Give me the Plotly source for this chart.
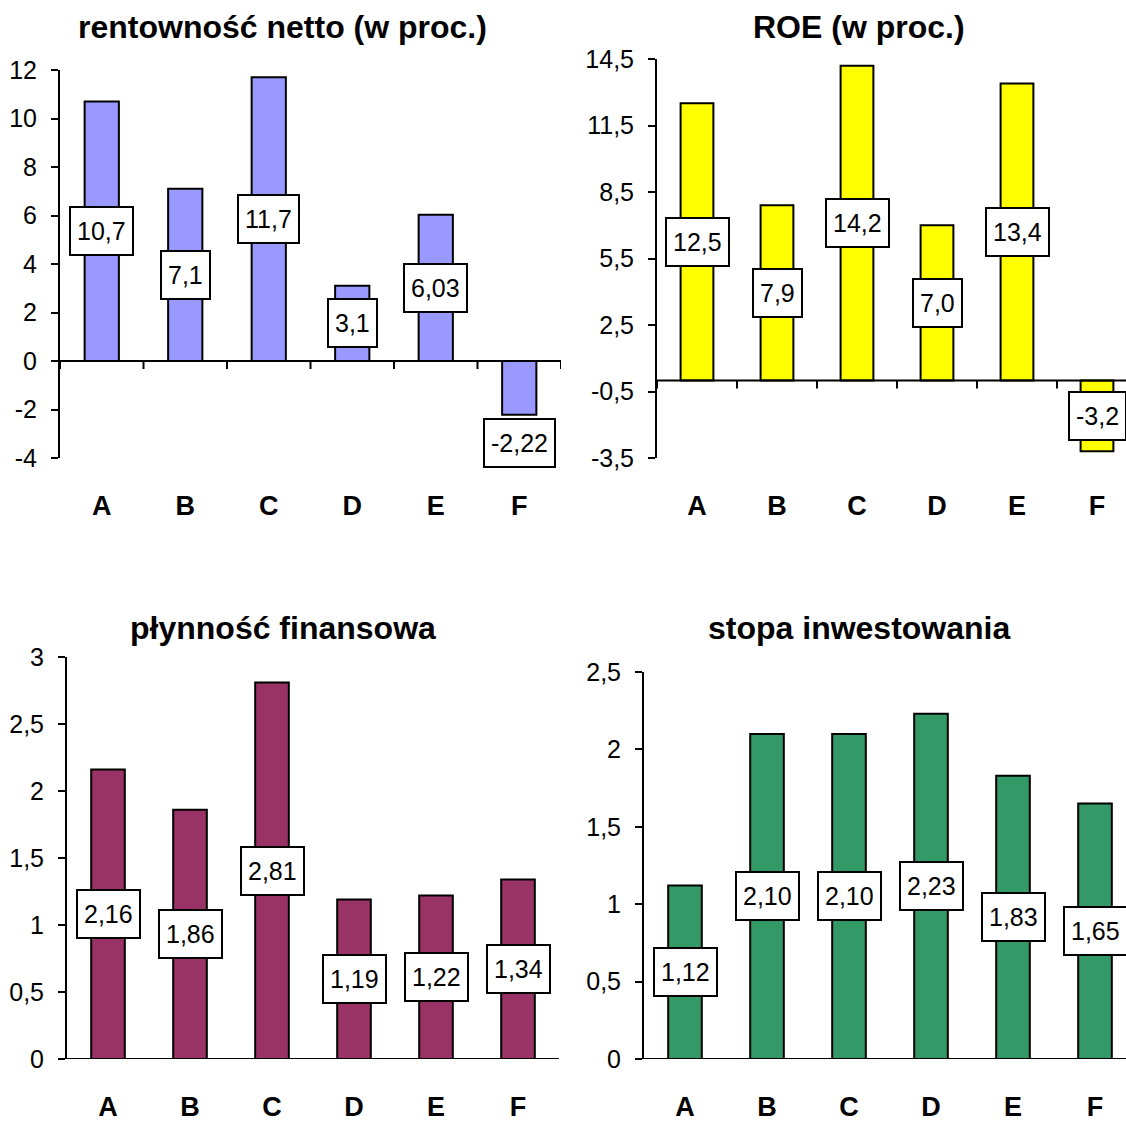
import plotly.graph_objects as go

categories = ["A", "B", "C", "D", "E", "F"]

rent_values = [10.7, 7.1, 11.7, 3.1, 6.03, -2.22]
rent_labels = ["10,7", "7,1", "11,7", "3,1", "6,03", "-2,22"]

roe_values = [12.5, 7.9, 14.2, 7.0, 13.4, -3.2]
roe_labels = ["12,5", "7,9", "14,2", "7,0", "13,4", "-3,2"]

plyn_values = [2.16, 1.86, 2.81, 1.19, 1.22, 1.34]
plyn_labels = ["2,16", "1,86", "2,81", "1,19", "1,22", "1,34"]

stopa_values = [1.12, 2.10, 2.10, 2.23, 1.83, 1.65]
stopa_labels = ["1,12", "2,10", "2,10", "2,23", "1,83", "1,65"]

titles = ["rentowność netto (w proc.)", "ROE (w proc.)",
          "płynność finansowa", "stopa inwestowania"]

W, H = 1126, 1122
FONT = "Liberation Sans, Arial, sans-serif"


def fx(p):
    return p / W


def fy(p):
    return 1 - p / H


panels = [
    dict(vals=rent_values, labels=rent_labels, title=titles[0], color="#9999FF",
         xd=(60, 561), yd=(70, 458), yr=(-4, 12), dtick=2, tick0=-4,
         xend=5.5, tpos=(283, 27), outside={5}),
    dict(vals=roe_values, labels=roe_labels, title=titles[1], color="#FFFF00",
         xd=(657, 1126), yd=(59, 458), yr=(-3.5, 14.5), dtick=3, tick0=-3.5,
         xend=-0.5 + 469 / 80, tpos=(859, 27), outside=set()),
    dict(vals=plyn_values, labels=plyn_labels, title=titles[2], color="#993366",
         xd=(67, 559), yd=(657, 1059), yr=(0, 3), dtick=0.5, tick0=0,
         xend=5.5, tpos=(283, 628), outside=set()),
    dict(vals=stopa_values, labels=stopa_labels, title=titles[3], color="#339966",
         xd=(644, 1126), yd=(672, 1059), yr=(0, 2.5), dtick=0.5, tick0=0,
         xend=-0.5 + 482 / 82, tpos=(859, 628), outside=set()),
]

fig = go.Figure()
shapes = []
annotations = []
layout_axes = {}

for i, p in enumerate(panels, start=1):
    xa = "x" if i == 1 else f"x{i}"
    ya = "y" if i == 1 else f"y{i}"
    fig.add_trace(go.Bar(
        x=categories, y=p["vals"], xaxis=xa, yaxis=ya,
        marker=dict(color=p["color"], line=dict(color="black", width=2)),
        showlegend=False, hoverinfo="x+y",
    ))

    # y ticks
    tv = []
    v = p["tick0"]
    while v <= p["yr"][1] + 1e-9:
        tv.append(round(v, 4))
        v += p["dtick"]
    tt = [(f"{t:g}").replace(".", ",") for t in tv]

    layout_axes["xaxis" if i == 1 else f"xaxis{i}"] = dict(
        domain=[fx(p["xd"][0]), fx(p["xd"][1])],
        anchor=ya, range=[-0.5, p["xend"]], type="category",
        showline=False, showgrid=False, zeroline=False, ticks="",
        tickfont=dict(family=FONT, size=27, color="black", weight="bold"),
        ticklabelstandoff=29, fixedrange=True,
    )
    layout_axes["yaxis" if i == 1 else f"yaxis{i}"] = dict(
        domain=[fy(p["yd"][1]), fy(p["yd"][0])],
        anchor=xa, range=list(p["yr"]),
        tickvals=tv, ticktext=tt,
        showline=True, linecolor="black", linewidth=2,
        ticks="outside", ticklen=7, tickwidth=2, tickcolor="black",
        showgrid=False, zeroline=False,
        tickfont=dict(family=FONT, size=25, color="black"),
        ticklabelstandoff=9,
        fixedrange=True,
    )

    # category axis line at zero and boundary ticks
    shapes.append(dict(type="line", xref=f"{xa} domain", x0=0, x1=1,
                       yref=ya, y0=0, y1=0, line=dict(color="black", width=2),
                       layer="above"))
    for k in range(7):
        b = -0.5 + k
        if b <= p["xend"] + 1e-9:
            shapes.append(dict(type="line", xref=xa, x0=b, x1=b,
                               yref=ya, ysizemode="pixel", yanchor=0,
                               y0=0, y1=-8, line=dict(color="black", width=2)))

    # data labels
    for j, (val, lab) in enumerate(zip(p["vals"], p["labels"])):
        common = dict(x=categories[j], xref=xa, yref=ya, text=lab,
                      showarrow=False,
                      font=dict(family=FONT, size=25, color="black"),
                      bgcolor="white", bordercolor="black",
                      borderwidth=2, borderpad=6, height=34)
        if j in p["outside"]:
            annotations.append(dict(y=val, yanchor="top", yshift=-3, **common))
        else:
            annotations.append(dict(y=val / 2, yanchor="middle", **common))

    # title
    annotations.append(dict(x=fx(p["tpos"][0]), y=fy(p["tpos"][1]),
                            xref="paper", yref="paper", xanchor="center",
                            yanchor="middle", text=p["title"], showarrow=False,
                            font=dict(family=FONT, size=32, color="black",
                                      weight="bold")))

fig.update_layout(
    width=W, height=H,
    margin=dict(l=0, r=0, t=0, b=0, autoexpand=False),
    paper_bgcolor="white", plot_bgcolor="white",
    bargap=0.59,
    separators=", ",
    shapes=shapes, annotations=annotations,
    font=dict(family=FONT, color="black"),
    **layout_axes,
)

fig.write_html("out.html", config={"displayModeBar": False},
               post_script="document.body.style.margin='0';"
                           "document.body.style.overflow='hidden';")
